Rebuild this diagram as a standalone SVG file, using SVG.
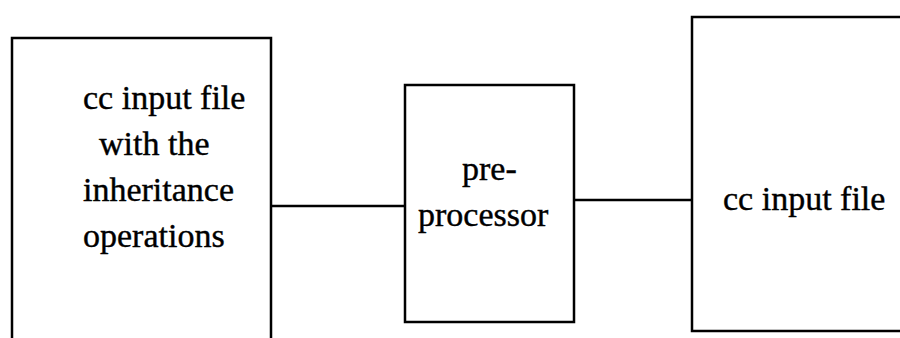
<svg xmlns="http://www.w3.org/2000/svg" width="900" height="338" viewBox="0 0 900 338">
  <style>
    .box { fill: none; stroke: #000; stroke-width: 2.5; }
    .wire { fill: none; stroke: #000; stroke-width: 2.5; }
    .lbl { font-family: "Liberation Serif", "Times New Roman", serif; font-size: 34px; fill: #000; stroke: #000; stroke-width: 0.4; }
  </style>
  <rect width="900" height="338" fill="#fff"/>

  <!-- source file: box runs off the bottom edge -->
  <g id="node-source">
    <path class="box" d="M12,340 V38 H271 V340"/>
    <text class="lbl" x="83" y="109">cc input file</text>
    <text class="lbl" x="99" y="155">with the</text>
    <text class="lbl" x="83" y="201">inheritance</text>
    <text class="lbl" x="83" y="247">operations</text>
  </g>

  <g id="node-preprocessor">
    <rect class="box" x="405" y="85" width="169" height="237"/>
    <text class="lbl" x="462" y="180">pre-</text>
    <text class="lbl" x="418" y="226">processor</text>
  </g>

  <!-- output file: box runs off the right edge -->
  <g id="node-output">
    <path class="box" d="M902,17 H692 V331 H902"/>
    <text class="lbl" x="723" y="210">cc input file</text>
  </g>

  <g id="connectors">
    <line class="wire" x1="271" y1="206" x2="405" y2="206"/>
    <line class="wire" x1="574" y1="200" x2="692" y2="200"/>
  </g>
</svg>
